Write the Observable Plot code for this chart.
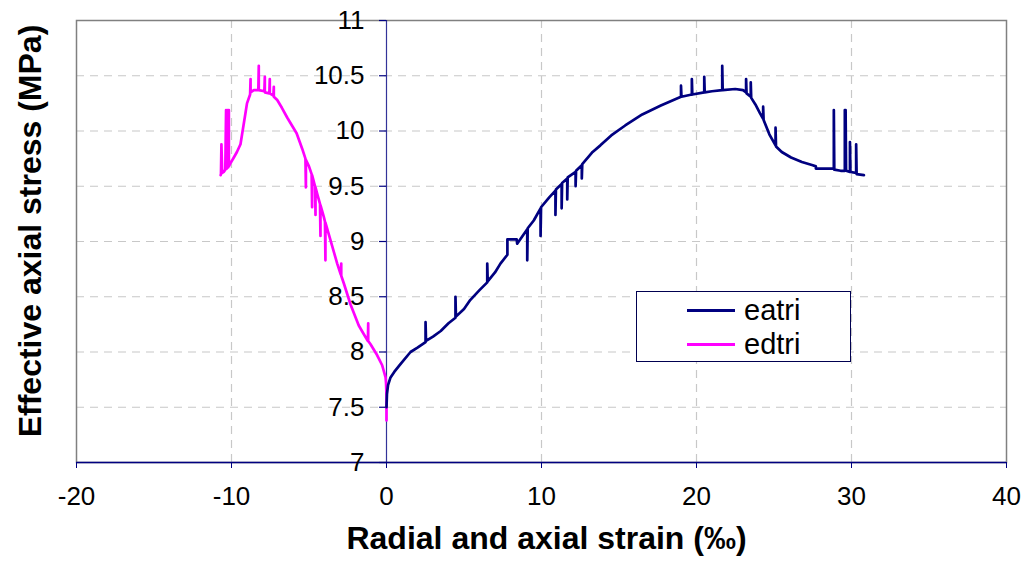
<!DOCTYPE html>
<html>
<head>
<meta charset="utf-8">
<script src="https://cdn.jsdelivr.net/npm/d3@7"></script>
<script src="https://cdn.jsdelivr.net/npm/@observablehq/plot@0.6"></script>
<style>
  html, body { margin: 0; padding: 0; background: #fff; }
  #wrap { position: relative; width: 1023px; height: 567px; font-family: "Liberation Sans", Arial, sans-serif; }
  #legend { position: absolute; left: 636px; top: 291px; width: 213px; height: 69px; border: 1.5px solid #000050; background: #fff; }
  .lg-row { position: absolute; left: 50px; height: 28px; display: flex; align-items: center; font-size: 29px; line-height: 28px; color: #000; }
  .lg-row span { line-height: 28px; display: block; height: 28px; }
  .lg-line { width: 48px; height: 0; border-top: 3px solid; margin-right: 9px; }
  #ytitle { position: absolute; left: 30px; top: 231px; transform: translate(-50%, -50%) rotate(-90deg); white-space: nowrap; font-size: 32px; font-weight: bold; color: #000; line-height: 1; }
</style>
</head>
<body>
<div id="wrap"></div>
<script>
// ---- data ----
const seriesNames = ["eatri", "edtri"];
const seriesColors = ["#000080", "#FF00FF"];

const eatriX = [0, 0.03, 0.1, 0.26, 0.5, 0.9, 1.55, 2.0, 2.52, 2.52, 2.55, 3.0, 3.5, 4.0, 4.45, 4.45, 4.48, 5.0, 5.4, 6.0, 6.5, 6.5, 6.53, 7.0, 7.35, 7.8, 7.8, 8.4, 8.43, 9.08, 9.08, 9.11, 9.5, 9.94, 9.94, 9.97, 10.5, 10.9, 10.9, 10.93, 11.3, 11.3, 11.33, 11.66, 11.66, 11.69, 12.2, 12.2, 12.23, 12.6, 12.6, 12.63, 13.3, 13.8, 14.5, 15.4, 16.5, 17.7, 19.0, 19.0, 19.03, 19.7, 19.7, 19.73, 20.5, 20.5, 20.53, 21.0, 21.66, 21.66, 21.69, 22.5, 23.0, 23.2, 23.2, 23.23, 23.5, 23.5, 23.53, 23.8, 24.1, 24.3, 24.3, 24.33, 24.7, 25.1, 25.1, 25.13, 25.5, 26.1, 26.8, 27.5, 27.7, 27.7, 28.8, 28.86, 28.86, 28.89, 29.3, 29.57, 29.57, 29.62, 29.65, 29.9, 29.9, 29.93, 30.3, 30.3, 30.33, 30.8];
const eatriY = [7.5, 7.62, 7.7, 7.77, 7.82, 7.89, 8.0, 8.04, 8.09, 8.27, 8.1, 8.14, 8.19, 8.26, 8.31, 8.5, 8.32, 8.39, 8.47, 8.56, 8.63, 8.8, 8.64, 8.72, 8.8, 8.88, 9.02, 9.02, 8.98, 9.11, 8.83, 9.12, 9.19, 9.3, 9.05, 9.31, 9.4, 9.46, 9.24, 9.47, 9.52, 9.3, 9.53, 9.57, 9.38, 9.58, 9.63, 9.5, 9.64, 9.69, 9.57, 9.7, 9.81, 9.87, 9.96, 10.05, 10.15, 10.23, 10.31, 10.41, 10.31, 10.33, 10.47, 10.33, 10.35, 10.49, 10.35, 10.36, 10.37, 10.59, 10.37, 10.38, 10.37, 10.35, 10.47, 10.34, 10.31, 10.44, 10.3, 10.24, 10.16, 10.11, 10.22, 10.1, 9.97, 9.87, 10.03, 9.86, 9.81, 9.76, 9.72, 9.69, 9.68, 9.66, 9.66, 9.66, 10.19, 9.65, 9.64, 9.64, 10.19, 10.19, 9.64, 9.63, 9.9, 9.63, 9.62, 9.88, 9.61, 9.6];

const edtriX = [0, 0, -0.03, -0.06, -0.28, -0.6, -1.03, -1.18, -1.18, -1.2, -1.5, -1.79, -2.32, -2.75, -2.92, -2.92, -2.95, -3.18, -3.61, -3.94, -3.94, -3.97, -4.04, -4.26, -4.26, -4.29, -4.47, -4.58, -4.58, -4.61, -4.8, -4.8, -4.83, -5.0, -5.2, -5.2, -5.23, -5.44, -5.8, -6.1, -6.4, -6.75, -7.05, -7.27, -7.27, -7.3, -7.53, -7.53, -7.56, -7.85, -7.85, -7.88, -8.24, -8.24, -8.27, -8.56, -8.77, -8.77, -8.8, -9.0, -9.1, -9.25, -9.42, -9.65, -9.85, -10.1, -10.17, -10.17, -10.22, -10.25, -10.3, -10.35, -10.4, -10.5, -10.6, -10.65, -10.68, -10.7];
const edtriY = [7.38, 7.6, 7.72, 7.77, 7.88, 7.97, 8.07, 8.1, 8.26, 8.1, 8.17, 8.24, 8.43, 8.62, 8.69, 8.8, 8.7, 8.8, 9.01, 9.17, 8.83, 9.18, 9.22, 9.33, 9.05, 9.34, 9.43, 9.49, 9.24, 9.5, 9.6, 9.31, 9.61, 9.68, 9.74, 9.49, 9.75, 9.84, 9.98, 10.05, 10.12, 10.21, 10.28, 10.31, 10.4, 10.32, 10.34, 10.47, 10.34, 10.35, 10.49, 10.36, 10.37, 10.59, 10.37, 10.37, 10.35, 10.47, 10.33, 10.25, 10.16, 10.03, 9.88, 9.81, 9.76, 9.7, 9.68, 10.19, 9.67, 10.19, 9.66, 10.19, 9.65, 9.63, 9.62, 9.88, 9.61, 9.6];

const xTicks = [-20, -10, 0, 10, 20, 30, 40];
const yTicks = [7, 7.5, 8, 8.5, 9, 9.5, 10, 10.5, 11];
const xGrid = [-10, 10, 20, 30];
const yGrid = [7.5, 8, 8.5, 9, 9.5, 10, 10.5];
const xTitle = "Radial and axial strain (‰)";
const yTitle = "Effective axial stress (MPa)";

const eatri = eatriX.map((x, i) => ({x, y: eatriY[i]}));
const edtri = edtriX.map((x, i) => ({x, y: edtriY[i]}));

const navy = "#000080";
const gridColor = "#c8c8c8";

const chart = Plot.plot({
  width: 1023,
  height: 567,
  marginLeft: 76,
  marginRight: 17,
  marginTop: 20,
  marginBottom: 105,
  x: {domain: [-20, 40], axis: null},
  y: {domain: [7, 11], axis: null},
  style: {fontFamily: "'Liberation Sans', Arial, sans-serif", background: "#fff", overflow: "visible"},
  marks: [
    Plot.gridX(xGrid, {stroke: gridColor, strokeOpacity: 1, strokeDasharray: "8,6", strokeWidth: 1.2}),
    Plot.gridY(yGrid, {stroke: gridColor, strokeOpacity: 1, strokeDasharray: "8,6", strokeWidth: 1.2}),
    Plot.frame({stroke: "#808080", strokeWidth: 1.5}),
    Plot.ruleY([7], {stroke: navy, strokeWidth: 1.5}),
    Plot.ruleX([0], {stroke: navy, strokeWidth: 1.2, strokeOpacity: 0.8}),
    Plot.ruleY(yTicks, {x1: -0.45, x2: 0, stroke: navy, strokeWidth: 1.2}),
    Plot.text(yTicks, {x: 0, y: d => d, text: d => String(d), textAnchor: "end", dx: -22, fontSize: 26}),
    Plot.axisX(xTicks, {tickSize: 6, tickPadding: 18, fontSize: 26, tickFormat: d => String(d), stroke: navy, fill: "#000", label: null}),
    Plot.line(edtri, {x: "x", y: "y", stroke: seriesColors[1], strokeWidth: 2.7}),
    Plot.line(eatri, {x: "x", y: "y", stroke: seriesColors[0], strokeWidth: 2.7}),
    Plot.text([xTitle], {frameAnchor: "bottom", dx: 5, dy: 86, fontSize: 32, fontWeight: "bold", text: d => d})
  ]
});

const wrap = document.getElementById("wrap");
wrap.appendChild(chart);

const ytitle = document.createElement("div");
ytitle.id = "ytitle";
ytitle.textContent = yTitle;
wrap.appendChild(ytitle);

const legend = document.createElement("div");
legend.id = "legend";
seriesNames.forEach((name, i) => {
  const row = document.createElement("div");
  row.className = "lg-row";
  row.style.top = (4 + i * 34) + "px";
  const sw = document.createElement("div");
  sw.className = "lg-line";
  sw.style.borderTopColor = seriesColors[i];
  const label = document.createElement("span");
  label.textContent = name;
  row.appendChild(sw);
  row.appendChild(label);
  legend.appendChild(row);
});
wrap.appendChild(legend);
</script>
</body>
</html>
